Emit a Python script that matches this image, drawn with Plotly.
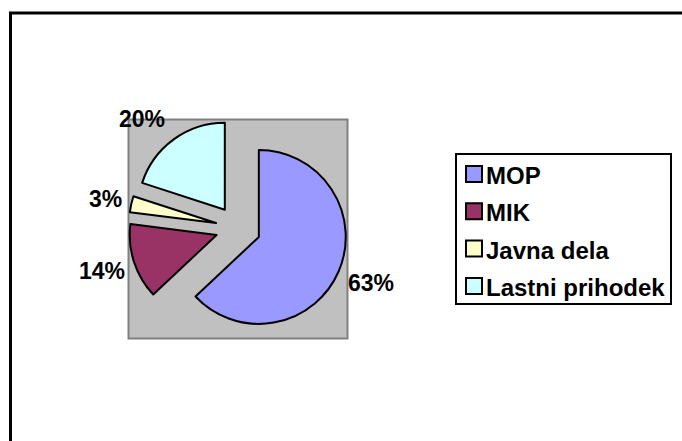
import math
import plotly.graph_objects as go

labels = ["MOP", "MIK", "Javna dela", "Lastni prihodek"]
values = [63, 14, 3, 20]
colors = ["#9999FF", "#993366", "#FFFFCC", "#CCFFFF"]
pull = 0.26

W, H = 682, 441

def px_x(v):
    return v / W

def px_y(v):
    return 1 - v / H

LABEL_FONT = dict(family="Liberation Sans, Arial, sans-serif", size=23, color="black", weight="bold")
LEGEND_FONT = dict(family="Liberation Sans, Arial, sans-serif", size=24, color="black", weight="bold")

# pie box (screen pixels)
bx0, bx1, by0, by1 = 128.6, 347.6, 118.4, 337.6

fig = go.Figure()
fig.add_trace(go.Pie(
    labels=labels,
    values=values,
    sort=False,
    direction="clockwise",
    rotation=0,
    pull=[pull] * len(values),
    marker=dict(colors=colors, line=dict(color="black", width=2)),
    textinfo="none",
    automargin=False,
    domain=dict(x=[px_x(bx0), px_x(bx1)], y=[px_y(by1), px_y(by0)]),
    hoverinfo="label+percent",
    showlegend=False,
))

shapes = [
    dict(type="rect", xref="paper", yref="paper", layer="below",
         x0=px_x(128.5), x1=px_x(347.5), y0=px_y(338.5), y1=px_y(119.5),
         fillcolor="#C0C0C0", line=dict(color="#808080", width=2)),
    dict(type="rect", xref="paper", yref="paper", layer="below",
         x0=px_x(10.5), x1=px_x(720), y0=px_y(480), y1=px_y(13),
         fillcolor="rgba(0,0,0,0)", line=dict(color="black", width=3)),
]
annotations = []

# percentage labels placed outside each slice, derived from the slice angles
cx, cy = (bx0 + bx1) / 2, (by0 + by1) / 2
r_out = min(bx1 - bx0, by1 - by0) / 2  # radius incl. pull
total = sum(values)
cum = 0
for v in values:
    mid = (cum + v / 2) / total * 2 * math.pi
    cum += v
    dx, dy = math.sin(mid), -math.cos(mid)
    ox, oy = cx + r_out * dx, cy + r_out * dy
    right = dx >= 0
    annotations.append(dict(
        xref="paper", yref="paper", showarrow=False,
        x=px_x(ox + (7 if right else -7)), y=px_y(oy + 27 * dy + 1),
        xanchor="left" if right else "right", yanchor="middle",
        text=f"{round(v / total * 100)}%", font=LABEL_FONT,
    ))

# legend
lx0, lx1, ly0, ly1 = 456, 671, 154, 304
shapes.append(dict(type="rect", xref="paper", yref="paper",
                   x0=px_x(lx0), x1=px_x(lx1), y0=px_y(ly1), y1=px_y(ly0),
                   fillcolor="white", line=dict(color="black", width=2)))
row_h = 37.3
first = 174
for i, (lab, col) in enumerate(zip(labels, colors)):
    yc = first + i * row_h
    shapes.append(dict(type="rect", xref="paper", yref="paper",
                       x0=px_x(466), x1=px_x(482), y0=px_y(yc + 8), y1=px_y(yc - 8),
                       fillcolor=col, line=dict(color="black", width=2)))
    annotations.append(dict(xref="paper", yref="paper", showarrow=False,
                            x=px_x(484), y=px_y(yc + 1.5), xanchor="left", yanchor="middle",
                            text=lab, font=LEGEND_FONT))

fig.update_layout(
    width=W, height=H,
    margin=dict(l=0, r=0, t=0, b=0),
    paper_bgcolor="white",
    plot_bgcolor="white",
    shapes=shapes,
    annotations=annotations,
    showlegend=False,
)

fig.write_html(
    "out.html",
    config={"displayModeBar": False},
    post_script="document.body.style.margin='0';document.body.style.overflow='hidden';",
)
